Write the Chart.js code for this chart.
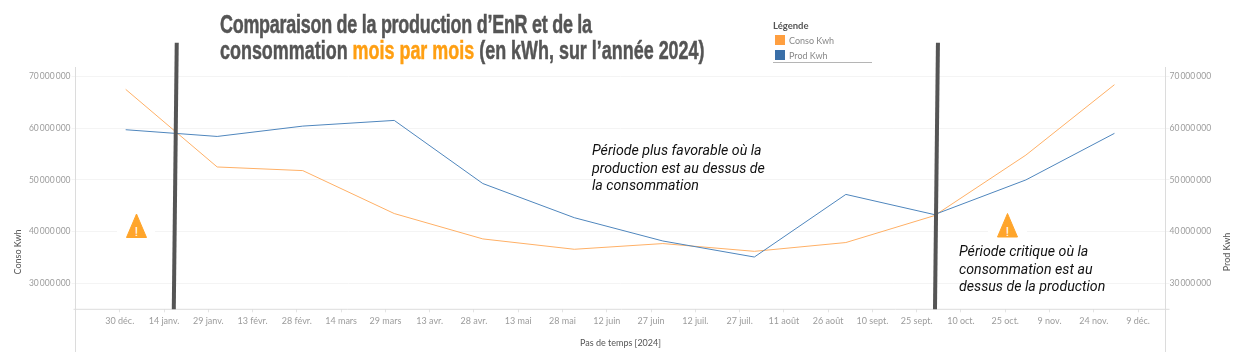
<!DOCTYPE html>
<html lang="fr">
<head>
<meta charset="utf-8">
<title>Comparaison production / consommation</title>
<script src="https://cdn.jsdelivr.net/npm/chart.js@4"></script>
<style>
  html, body { margin: 0; padding: 0; background: #fff; }
  #wrap { position: relative; width: 1245px; height: 361px; overflow: hidden; }
  canvas { position: absolute; left: 0; top: 0; }
  .txt { position: absolute; white-space: nowrap; }
  #title { left: 220px; top: 11px; font: bold 26px/26px "Liberation Sans", sans-serif; color: #555; transform: scaleX(0.69); transform-origin: left top; -webkit-text-stroke: 0.5px currentColor; }
  #title span { letter-spacing: -0.37px; }
  #title b { color: #ff9f12; }
  .note { font: italic 14.2px/17.5px Roboto, sans-serif; color: #111; }
  .axis-title { font: 9px Lato, sans-serif; color: #555; transform: translate(-50%, -50%) rotate(-90deg); }
  #legend-title { left: 773px; top: 20px; font: bold 9.5px Lato, sans-serif; color: #555; }
  .legend-label { left: 789px; font: 9px Lato, sans-serif; color: #888; }
  .swatch { position: absolute; left: 775px; width: 10px; height: 10px; }
  #legend-rule { position: absolute; left: 773px; top: 62px; width: 99px; height: 1px; background: #b5b5b5; }
  svg.warn { position: absolute; }
</style>
</head>
<body>
<div id="wrap">
  <canvas id="chart" width="1245" height="361"></canvas>
  <div class="txt" id="title"><span>Comparaison de la production d’EnR et de la</span><br>consommation <b>mois par mois</b> (en kWh, sur l’année 2024)</div>
  <div class="txt" id="legend-title">Légende</div>
  <div class="swatch" style="top:35px;background:#ff9f40"></div>
  <div class="txt legend-label" style="top:35px">Conso Kwh</div>
  <div class="swatch" style="top:50px;background:#3a6fa8"></div>
  <div class="txt legend-label" style="top:50px">Prod Kwh</div>
  <div id="legend-rule"></div>
  <div class="txt note" style="left:592px;top:142px">Période plus favorable où la<br>production est au dessus de<br>la consommation</div>
  <div class="txt note" style="left:959px;top:243px">Période critique où la<br>consommation est au<br>dessus de la production</div>
  <div class="txt axis-title" style="left:17px;top:252px">Conso Kwh</div>
  <div class="txt axis-title" style="left:1226px;top:252px">Prod Kwh</div>
  <svg class="warn" style="left:117px;top:208px" width="38" height="34" viewBox="0 0 38 34">
    <rect width="38" height="34" fill="#fff"/>
    <path d="M19.5 6 L29.5 29.5 L9.5 29.5 Z" fill="#ffa52b" stroke="#ffa52b" stroke-linejoin="round"/>
    <text x="19.5" y="28" text-anchor="middle" font-family="Roboto" font-size="13" fill="#fff">!</text>
  </svg>
  <svg class="warn" style="left:988px;top:208px" width="39" height="34" viewBox="0 0 39 34">
    <rect width="39" height="34" fill="#fff"/>
    <path d="M19.5 5.5 L29.5 29 L9.5 29 Z" fill="#ffa52b" stroke="#ffa52b" stroke-linejoin="round"/>
    <text x="19.5" y="27.5" text-anchor="middle" font-family="Roboto" font-size="13" fill="#fff">!</text>
  </svg>
</div>
<script>
// days counted from 1 Jan 2024
const monthDays = [0, 31, 60, 91, 121, 152, 182, 213, 244, 274, 305, 335];
const consoKwh = [67500000, 52500000, 51800000, 43500000, 38600000, 36600000, 37700000, 36200000, 37900000, 43100000, 54800000, 68400000];
const prodKwh = [59700000, 58400000, 60400000, 61500000, 49300000, 42700000, 38200000, 35100000, 47200000, 43300000, 50000000, 59000000];

const xTickDays = [-2, 13, 28, 43, 58, 73, 88, 103, 118, 133, 148, 163, 178, 193, 208, 223, 238, 253, 268, 283, 298, 313, 328, 343];
const xTickLabels = ["30 déc.", "14 janv.", "29 janv.", "13 févr.", "28 févr.", "14 mars", "29 mars", "13 avr.", "28 avr.", "13 mai", "28 mai", "12 juin", "27 juin", "12 juil.", "27 juil.", "11 août", "26 août", "10 sept.", "25 sept.", "10 oct.", "25 oct.", "9 nov.", "24 nov.", "9 déc."];
const yTicks = [30000000, 40000000, 50000000, 60000000, 70000000];
const yTickLabels = ["30\u2009000\u2009000", "40\u2009000\u2009000", "50\u2009000\u2009000", "60\u2009000\u2009000", "70\u2009000\u2009000"];

// the two thick hand drawn separators
const dividerLeftDays = [17.3, 16.3];
const dividerRightDays = [275.2, 274.2];
const dividerValues = [76500000, 25000000];

const xMin = -17;
const xMax = 352.3;
const yMin = 25000000;
const yMax = 71820000;

function toPoints(xs, ys) {
  return xs.map((x, i) => ({ x: x, y: ys[i] }));
}

function yLabel(value) {
  const i = yTicks.indexOf(value);
  return i >= 0 ? yTickLabels[i] : "";
}

function setTicks(values) {
  return (axis) => {
    axis.ticks = values.map((v) => ({ value: v }));
  };
}

const tickColor = "#9c9c9c";
const tickFont = { family: "Lato", size: 9 };
const yTickFont = { family: "Lato", size: 8.5 };

// axis lines run past the plot, down to the bottom of the picture
const axisLines = {
  id: "axisLines",
  beforeDatasetsDraw(chart) {
    const { ctx, chartArea } = chart;
    ctx.save();
    ctx.strokeStyle = "#dcdcdc";
    ctx.lineWidth = 1;
    ctx.beginPath();
    ctx.moveTo(chartArea.left, chartArea.top);
    ctx.lineTo(chartArea.left, 352);
    ctx.moveTo(chartArea.right, chartArea.top);
    ctx.lineTo(chartArea.right, 352);
    ctx.moveTo(chartArea.left - 2, chartArea.bottom);
    ctx.lineTo(chartArea.right + 4, chartArea.bottom);
    ctx.stroke();
    ctx.restore();
  },
};

new Chart(document.getElementById("chart"), {
  type: "line",
  data: {
    datasets: [
      {
        label: "Séparateur gauche",
        data: toPoints(dividerLeftDays, dividerValues),
        borderColor: "#555555",
        borderWidth: 4,
        pointRadius: 0,
        clip: false,
        yAxisID: "y",
        order: 0,
      },
      {
        label: "Séparateur droit",
        data: toPoints(dividerRightDays, dividerValues),
        borderColor: "#555555",
        borderWidth: 4,
        pointRadius: 0,
        clip: false,
        yAxisID: "y",
        order: 0,
      },
      {
        label: "Conso Kwh",
        data: toPoints(monthDays, consoKwh),
        borderColor: "#ffb066",
        borderWidth: 1,
        pointRadius: 0,
        tension: 0,
        yAxisID: "y",
        order: 2,
      },
      {
        label: "Prod Kwh",
        data: toPoints(monthDays, prodKwh),
        borderColor: "#4f86bd",
        borderWidth: 1,
        pointRadius: 0,
        tension: 0,
        yAxisID: "y1",
        order: 1,
      },
    ],
  },
  options: {
    responsive: false,
    animation: false,
    layout: { padding: { top: 67 } },
    plugins: { legend: { display: false }, tooltip: { enabled: false } },
    scales: {
      x: {
        type: "linear",
        min: xMin,
        max: xMax,
        afterBuildTicks: setTicks(xTickDays),
        afterFit(axis) { axis.height = 51.7; },
        border: { display: false },
        grid: { drawOnChartArea: false, color: "#e4e4e4", tickLength: 3 },
        ticks: {
          autoSkip: false,
          maxRotation: 0,
          color: tickColor,
          font: tickFont,
          padding: 3,
          callback: (value) => xTickLabels[xTickDays.indexOf(value)],
        },
        title: {
          display: true,
          text: "Pas de temps [2024]",
          color: "#555",
          font: { family: "Lato", size: 9 },
          padding: { top: 0, bottom: 13 },
        },
      },
      y: {
        position: "left",
        min: yMin,
        max: yMax,
        afterBuildTicks: setTicks(yTicks),
        afterFit(axis) { axis.width = 75.5; },
        border: { display: false },
        grid: { color: "#f4f4f4", tickLength: 4 },
        ticks: { color: tickColor, font: yTickFont, padding: 1, callback: yLabel },
      },
      y1: {
        position: "right",
        min: yMin,
        max: yMax,
        afterBuildTicks: setTicks(yTicks),
        afterFit(axis) { axis.width = 79.5; },
        border: { display: false },
        grid: { drawOnChartArea: false, color: "#f4f4f4", tickLength: 4 },
        ticks: { color: tickColor, font: yTickFont, padding: 0, callback: yLabel },
      },
    },
  },
  plugins: [axisLines],
});
</script>
</body>
</html>
